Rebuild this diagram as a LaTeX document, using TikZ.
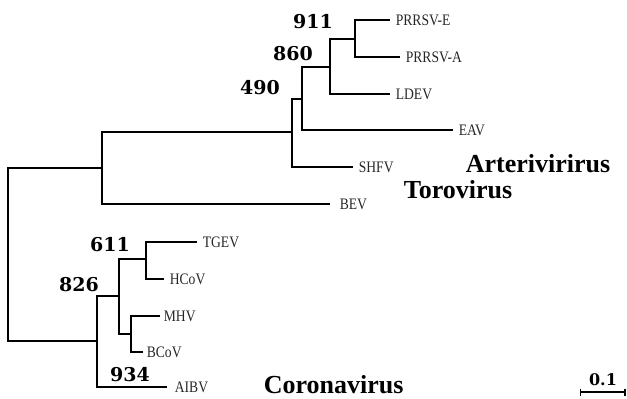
\documentclass[tikz,border=0pt]{standalone}
\usepackage{fontspec}
\setmainfont{Liberation Serif}
\newfontfamily\leaffont[FakeStretch=0.85]{Liberation Serif}
\newfontfamily\bootfont{DejaVu Serif}
\usetikzlibrary{arrows.meta}

\begin{document}
\begin{tikzpicture}[x=1pt, y=-1pt, line width=1.7pt,
  leaf/.style={anchor=west, inner xsep=5pt, inner ysep=0pt, text=black!85,
               font=\leaffont\fontsize{16}{16}\selectfont},
  boot/.style={inner sep=0pt, font=\bootfont\bfseries\fontsize{19}{19}\selectfont},
  genus/.style={anchor=base west, inner sep=0pt,
                font=\bfseries\fontsize{26}{26}\selectfont}]
  \useasboundingbox (0,0) rectangle (627,399);
  % inner nodes of the tree
  \coordinate (r)  at (8,255);
  \coordinate (at) at (102,168);
  \coordinate (a1) at (292,132);
  \coordinate (a2) at (302,99);
  \coordinate (a3) at (330,67);
  \coordinate (a4) at (355,39);
  \coordinate (c1) at (97,341);
  \coordinate (c2) at (119,296);
  \coordinate (c3) at (146,259);
  \coordinate (c4) at (131,334);
  % leaves
  \node[leaf] (prrsve) at (390,20)  {PRRSV-E};
  \node[leaf] (prrsva) at (400,57)  {PRRSV-A};
  \node[leaf] (ldev)   at (390,94)  {LDEV};
  \node[leaf] (eav)    at (453,130) {EAV};
  \node[leaf] (shfv)   at (353,167) {SHFV};
  \node[leaf, inner xsep=9pt] (bev) at (330,204) {BEV};
  \node[leaf] (tgev)   at (197,242) {TGEV};
  \node[leaf] (hcov)   at (164,279) {HCoV};
  \node[leaf, inner xsep=3pt] (mhv)  at (160,316) {MHV};
  \node[leaf, inner xsep=3pt] (bcov) at (143,352) {BCoV};
  \node[leaf, inner xsep=7pt] (aibv) at (167,387) {AIBV};
  % branches
  \draw (r) |- (at);
  \draw (r) |- (c1);
  \draw (at) |- (a1);
  \draw (at) |- (bev.west);
  \draw (a1) |- (a2);
  \draw (a1) |- (shfv.west);
  \draw (a2) |- (a3);
  \draw (a2) |- (eav.west);
  \draw (a3) |- (a4);
  \draw (a3) |- (ldev.west);
  \draw (a4) |- (prrsve.west);
  \draw (a4) |- (prrsva.west);
  \draw (c1) |- (c2);
  \draw (c1) |- (aibv.west);
  \draw (c2) |- (c3);
  \draw (c2) |- (c4);
  \draw (c3) |- (tgev.west);
  \draw (c3) |- (hcov.west);
  \draw (c4) |- (mhv.west);
  \draw (c4) |- (bcov.west);
  % bootstrap values
  \node[boot] (b911) at (313,22)  {911};
  \node[boot] (b860) at (293,54)  {860};
  \node[boot] (b490) at (260,88)  {490};
  \node[boot] (b611) at (110,245) {611};
  \node[boot] (b826) at (79,285)  {826};
  \node[boot] (b934) at (130,375) {934};
  % genera
  \node[genus] (arteri) at (465,172) {Arterivirirus};
  \node[genus] (toro)   at (403,198) {Torovirus};
  \node[genus] (corona) at (263,393) {Coronavirus};
  % scale bar
  \coordinate (sbl) at (580,392);
  \coordinate (sbr) at (625.5,392);
  \draw[line width=1.1pt, {Bar[width=7pt]}-{Bar[width=7pt]}] (sbl) -- (sbr);
  \node[boot, anchor=base, font=\bootfont\bfseries\fontsize{16}{16}\selectfont]
       (scale) at (603,385) {0.1};
\end{tikzpicture}
\end{document}
